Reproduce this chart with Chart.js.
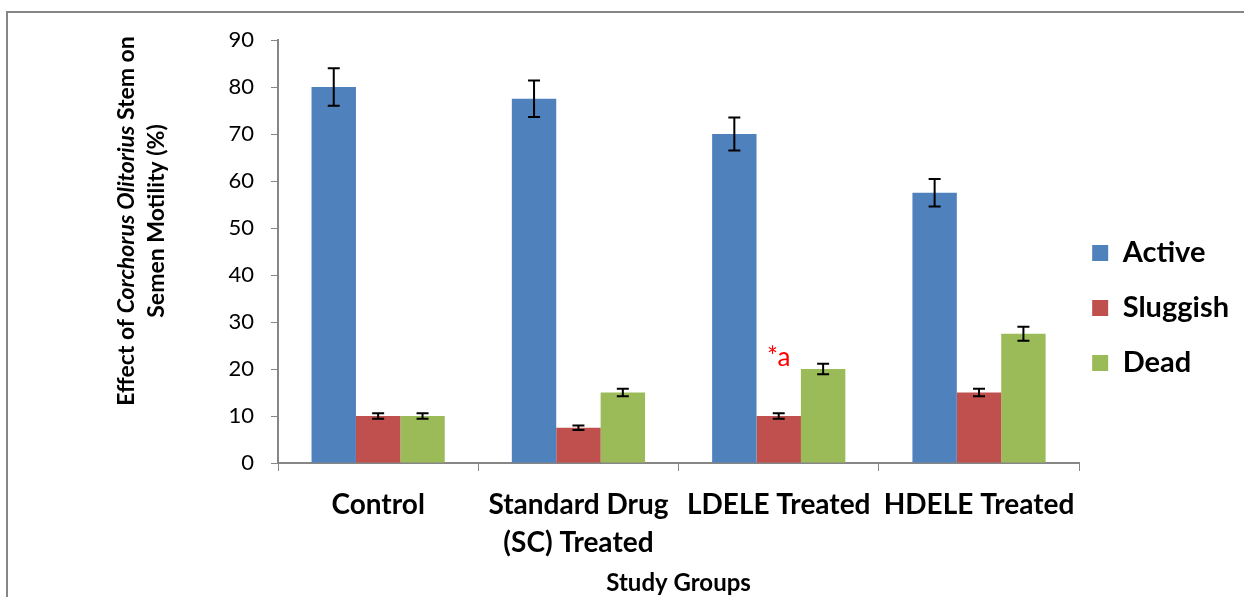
<!DOCTYPE html>
<html lang="en">
<head>
  <meta charset="UTF-8">
  <title>Semen Motility</title>
  <script src="https://cdn.jsdelivr.net/npm/chart.js"></script>
  <style>
    body { margin: 0; background: #fff; }
  </style>
</head>
<body>
  <canvas id="motilityChart" width="1244" height="597"></canvas>

  <script>
    const groups = ['Control', ['Standard Drug', '(SC) Treated'], 'LDELE Treated', 'HDELE Treated'];
    const active = [80, 77.5, 70, 57.5];
    const sluggish = [10, 7.5, 10, 15];
    const dead = [10, 15, 20, 27.5];
    const activeErr = [4, 3.9, 3.5, 2.9];
    const sluggishErr = [0.6, 0.5, 0.6, 0.8];
    const deadErr = [0.6, 0.8, 1.1, 1.5];
    const yTicks = [0, 10, 20, 30, 40, 50, 60, 70, 80, 90];

    const FONT = 'Lato';
    const GRAY = '#868686';

    // error bars drawn from the bar elements and the y scale
    const errorBars = {
      id: 'errorBars',
      afterDatasetsDraw(chart) {
        const ctx = chart.ctx;
        const y = chart.scales.y;
        ctx.save();
        ctx.strokeStyle = '#000';
        ctx.lineWidth = 2;
        chart.data.datasets.forEach((ds, i) => {
          const meta = chart.getDatasetMeta(i);
          meta.data.forEach((bar, j) => {
            const v = ds.data[j], e = ds.errors[j];
            const top = y.getPixelForValue(v + e);
            const bot = y.getPixelForValue(v - e);
            ctx.beginPath();
            ctx.moveTo(bar.x, top); ctx.lineTo(bar.x, bot);
            ctx.moveTo(bar.x - 6, top); ctx.lineTo(bar.x + 6, top);
            ctx.moveTo(bar.x - 6, bot); ctx.lineTo(bar.x + 6, bot);
            ctx.stroke();
          });
        });
        // "*a" mark above the LDELE sluggish bar
        const b = chart.getDatasetMeta(1).data[2];
        ctx.fillStyle = '#ff0000';
        ctx.font = '26px ' + FONT;
        ctx.textAlign = 'center';
        ctx.textBaseline = 'middle';
        ctx.fillText('*a', b.x, y.getPixelForValue(22.5));
        ctx.restore();
      }
    };

    // frame and the y title with the italic species name
    const extras = {
      id: 'extras',
      afterDraw(chart) {
        const ctx = chart.ctx;
        ctx.save();
        ctx.strokeStyle = GRAY;
        ctx.lineWidth = 2;
        ctx.beginPath();
        ctx.moveTo(7, 597); ctx.lineTo(7, 12); ctx.lineTo(1244, 12);
        ctx.stroke();

        const size = 23;
        const parts = [
          ['bold ' + size + 'px ' + FONT, 'Effect of '],
          ['italic bold ' + size + 'px ' + FONT, 'Corchorus Olitorius'],
          ['bold ' + size + 'px ' + FONT, ' Stem on']
        ];
        ctx.fillStyle = '#000';
        ctx.textBaseline = 'middle';
        ctx.translate(127, 221);
        ctx.rotate(-Math.PI / 2);
        let total = 0;
        parts.forEach(p => { ctx.font = p[0]; total += ctx.measureText(p[1]).width; });
        let x = -total / 2;
        ctx.textAlign = 'left';
        parts.forEach(p => {
          ctx.font = p[0];
          ctx.fillText(p[1], x, 0);
          x += ctx.measureText(p[1]).width;
        });
        ctx.font = 'bold ' + size + 'px ' + FONT;
        ctx.textAlign = 'center';
        ctx.fillText('Semen Motility (%)', 0, 30);
        ctx.restore();
      }
    };

    new Chart(document.getElementById('motilityChart'), {
      type: 'bar',
      data: {
        labels: groups,
        datasets: [
          { label: 'Active', data: active, errors: activeErr, backgroundColor: '#4F81BD' },
          { label: 'Sluggish', data: sluggish, errors: sluggishErr, backgroundColor: '#C0504D' },
          { label: 'Dead', data: dead, errors: deadErr, backgroundColor: '#9BBB59' }
        ]
      },
      options: {
        responsive: false,
        animation: false,
        layout: { padding: { left: 0, top: 40, right: 5, bottom: 8 } },
        datasets: { bar: { barPercentage: 1, categoryPercentage: 0.665 } },
        plugins: {
          legend: {
            position: 'right',
            labels: {
              boxWidth: 16, boxHeight: 16, padding: 13, color: '#000',
              font: { family: FONT, size: 29, weight: 'bold', lineHeight: 1.45 },
              generateLabels: chart => Chart.defaults.plugins.legend.labels.generateLabels(chart)
                .map(l => Object.assign(l, { text: [l.text] }))
            }
          },
          tooltip: { enabled: false }
        },
        scales: {
          x: {
            afterFit: s => { s.height = 126; },
            grid: { display: true, drawOnChartArea: false, offset: true, tickLength: 8, color: GRAY },
            border: { color: GRAY, width: 2 },
            ticks: { color: '#000', padding: 15, font: { family: FONT, size: 28, weight: 'bold', lineHeight: 1.36 } },
            title: { display: true, text: 'Study Groups', color: '#000', padding: { top: 0, bottom: -9 },
                     font: { family: FONT, size: 24, weight: 'bold' } }
          },
          y: {
            min: 0, max: 90,
            afterFit: s => { s.width = 278; },
            afterBuildTicks: s => { s.ticks = yTicks.map(v => ({ value: v })); },
            grid: { display: true, drawOnChartArea: false, tickLength: 7, color: GRAY },
            border: { color: GRAY, width: 2 },
            ticks: { color: '#000', padding: 17, font: { family: FONT, size: 22 } }
          }
        }
      },
      plugins: [errorBars, extras]
    });
  </script>
</body>
</html>
